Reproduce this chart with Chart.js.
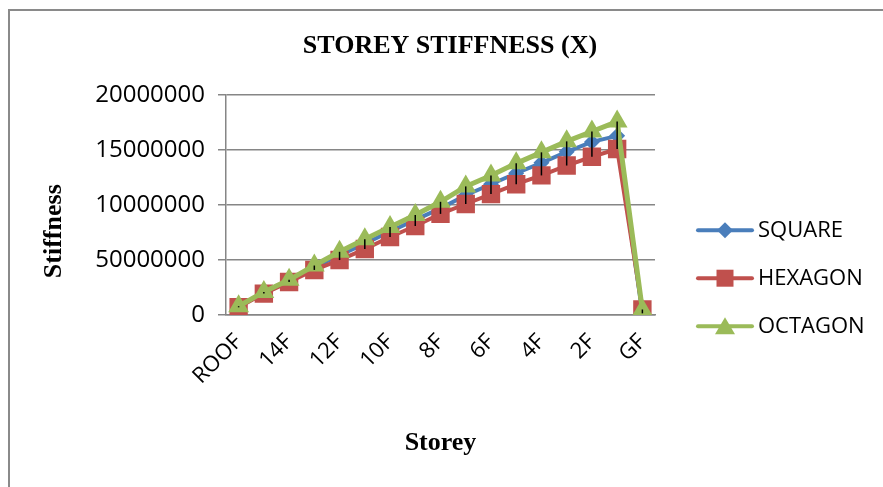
<!DOCTYPE html>
<html>
<head>
<meta charset="utf-8">
<script src="https://cdn.jsdelivr.net/npm/chart.js@4.4.1/dist/chart.umd.min.js"></script>
<style>
  html, body { margin: 0; padding: 0; background: #fff; overflow: hidden; }
  #frame {
    position: absolute; left: 8px; top: 9px; width: 1000px; height: 600px;
    border-left: 2px solid #8a8a8a; border-top: 2px solid #8a8a8a;
  }
  #wrap { position: absolute; left: 0; top: 0; width: 883px; height: 487px; }
</style>
</head>
<body>
<div id="frame"></div>
<div id="wrap"><canvas id="stiffnessChart"></canvas></div>
<script>
const storeys = ["ROOF", "15F", "14F", "13F", "12F", "11F", "10F", "9F", "8F",
  "7F", "6F", "5F", "4F", "3F", "2F", "1F", "GF"];

const squareStiffness = [750000, 2000000, 3100000, 4350000, 5450000, 6500000,
  7600000, 8650000, 9700000, 10900000, 11900000, 12900000, 13850000, 14850000,
  15750000, 16300000, 150000];
const hexagonStiffness = [700000, 1950000, 3000000, 4100000, 5000000, 6000000,
  7100000, 8100000, 9200000, 10100000, 11000000, 11900000, 12700000, 13600000,
  14400000, 15100000, 500000];
const octagonStiffness = [800000, 2100000, 3200000, 4500000, 5750000, 6900000,
  8000000, 9100000, 10300000, 11700000, 12700000, 13800000, 14800000, 15800000,
  16700000, 17600000, 450000];

// tick labels as printed on the original (the second one really reads 50000000)
const yTickLabels = ["0", "50000000", "10000000", "15000000", "20000000"];

const BLUE = "#4A7EBB";
const RED = "#C0504D";
const GREEN = "#9BBB59";

const legendItems = [
  { text: "SQUARE", color: BLUE, shape: "diamond" },
  { text: "HEXAGON", color: RED, shape: "square" },
  { text: "OCTAGON", color: GREEN, shape: "triangle" },
];

function drawShape(ctx, shape, x, y) {
  ctx.beginPath();
  if (shape === "diamond") {
    ctx.moveTo(x, y - 8);
    ctx.lineTo(x + 8, y);
    ctx.lineTo(x, y + 8);
    ctx.lineTo(x - 8, y);
  } else if (shape === "square") {
    ctx.rect(x - 8.5, y - 8.5, 17, 17);
  } else {
    ctx.moveTo(x, y - 9);
    ctx.lineTo(x + 10, y + 8);
    ctx.lineTo(x - 10, y + 8);
  }
  ctx.closePath();
  ctx.fill();
}

// black high-low lines between the highest and lowest series at each storey
const highLowLines = {
  id: "highLowLines",
  afterDatasetsDraw(chart) {
    const { ctx, scales } = chart;
    ctx.save();
    ctx.strokeStyle = "#000";
    ctx.lineWidth = 1.5;
    storeys.forEach((s, i) => {
      const vals = [squareStiffness[i], hexagonStiffness[i], octagonStiffness[i]];
      const x = scales.x.getPixelForValue(i);
      ctx.beginPath();
      ctx.moveTo(x, scales.y.getPixelForValue(Math.max(...vals)));
      ctx.lineTo(x, scales.y.getPixelForValue(Math.min(...vals)));
      ctx.stroke();
    });
    ctx.restore();
  },
};

// legend with line + marker, and the rotated y axis title
const extras = {
  id: "extras",
  afterDraw(chart) {
    const { ctx, chartArea } = chart;
    ctx.save();
    legendItems.forEach((item, i) => {
      const y = chartArea.top + 135 + i * 48;
      const x0 = chartArea.right + 43;
      ctx.strokeStyle = item.color;
      ctx.fillStyle = item.color;
      ctx.lineWidth = 4;
      ctx.lineCap = "round";
      ctx.beginPath();
      ctx.moveTo(x0, y);
      ctx.lineTo(x0 + 54, y);
      ctx.stroke();
      drawShape(ctx, item.shape, x0 + 27, y);
      ctx.fillStyle = "#000";
      ctx.font = '22px "Open Sans"';
      ctx.textAlign = "left";
      ctx.textBaseline = "middle";
      ctx.fillText(item.text, x0 + 60, y + 1);
    });

    ctx.translate(54, chartArea.top + 136);
    ctx.rotate(-Math.PI / 2);
    ctx.font = 'bold 26px "Liberation Serif"';
    ctx.textAlign = "center";
    ctx.textBaseline = "middle";
    ctx.fillStyle = "#000";
    ctx.fillText("Stiffness", 0, 0);
    ctx.restore();
  },
};

const tickFont = { family: '"Open Sans"', size: 22 };
const titleFont = { family: '"Liberation Serif"', size: 26, weight: "bold" };

new Chart(document.getElementById("stiffnessChart"), {
  type: "line",
  data: {
    labels: storeys,
    datasets: [
      {
        label: "OCTAGON",
        data: octagonStiffness,
        borderColor: GREEN,
        backgroundColor: GREEN,
        borderWidth: 5,
        pointStyle: "triangle",
        pointRadius: 12,
        pointBorderWidth: 0,
      },
      {
        label: "HEXAGON",
        data: hexagonStiffness,
        borderColor: RED,
        backgroundColor: RED,
        borderWidth: 4,
        pointStyle: "rect",
        pointRadius: 13,
        pointBorderWidth: 0,
      },
      {
        label: "SQUARE",
        data: squareStiffness,
        borderColor: BLUE,
        backgroundColor: BLUE,
        borderWidth: 4,
        pointStyle: "rectRot",
        pointRadius: 8,
        pointBorderWidth: 0,
      },
    ],
  },
  options: {
    responsive: true,
    maintainAspectRatio: false,
    animation: false,
    layout: { padding: { left: 17, right: 0, top: 0, bottom: 0 } },
    plugins: {
      legend: { display: false },
      tooltip: { enabled: false },
      title: {
        display: true,
        text: "STOREY STIFFNESS (X)",
        font: titleFont,
        color: "#000",
        padding: { top: 31, bottom: 33 },
      },
    },
    scales: {
      x: {
        offset: true,
        grid: { display: false },
        border: { display: true, color: "#868686", width: 1.5 },
        ticks: {
          autoSkip: false,
          minRotation: 45,
          maxRotation: 45,
          padding: 6,
          font: tickFont,
          color: "#000",
          callback: (value, index) => (index % 2 === 0 ? storeys[index] : ""),
        },
        title: {
          display: true,
          text: "Storey",
          font: titleFont,
          color: "#000",
          padding: { top: 0, bottom: 28 },
        },
        afterFit: (scale) => {
          scale.height = 172;
        },
      },
      y: {
        min: 0,
        max: 20000000,
        grid: { color: "#868686", lineWidth: 1.5, tickLength: 8 },
        border: { color: "#868686", width: 1.5 },
        ticks: {
          stepSize: 5000000,
          padding: 13,
          font: { family: '"Open Sans"', size: 24 },
          color: "#000",
          callback: (value, index) => yTickLabels[index],
        },
        afterFit: (scale) => {
          scale.width = 209;
        },
      },
      legendSpace: {
        type: "linear",
        position: "right",
        display: true,
        grid: { display: false },
        border: { display: false },
        ticks: { display: false },
        afterFit: (scale) => {
          scale.width = 228;
        },
      },
    },
  },
  plugins: [highLowLines, extras],
});
</script>
</body>
</html>
